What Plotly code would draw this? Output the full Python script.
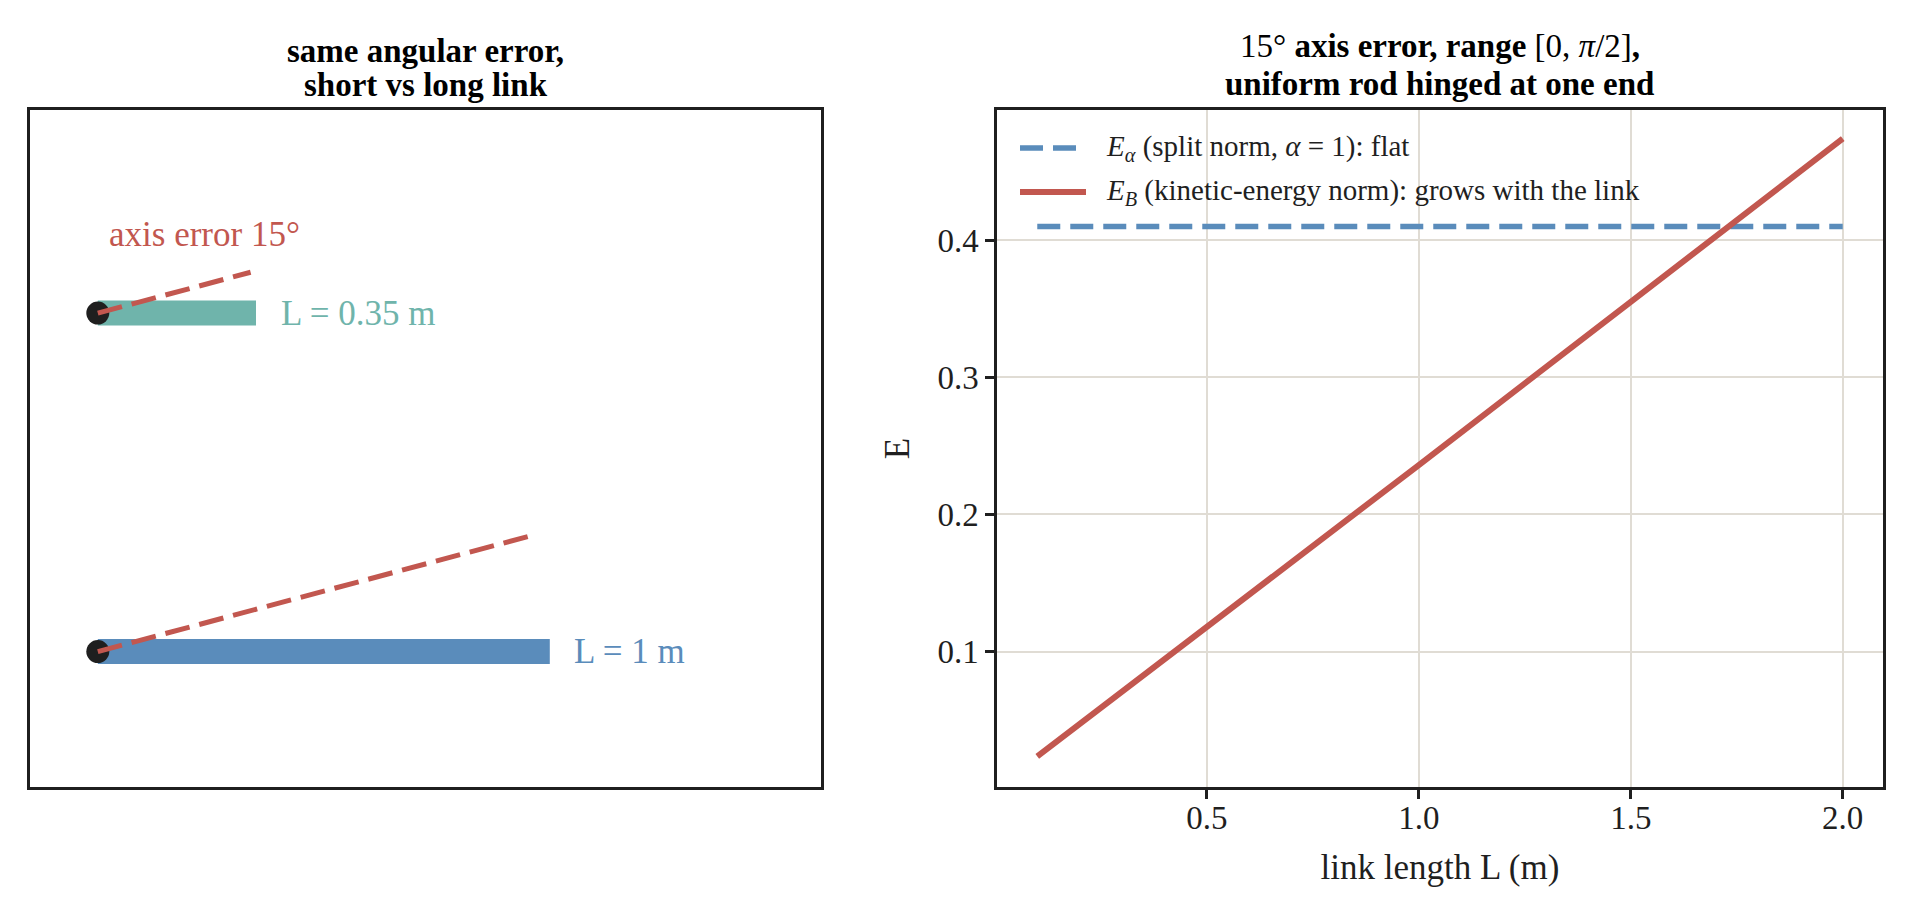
import math
import plotly.graph_objects as go

# right panel: error measure vs link length
L_flat = [0.1, 2.0]
E_alpha = [0.41, 0.41]
L_curve = [0.1, 0.5, 1.0, 1.5, 2.0]
E_B = [0.0235, 0.1175, 0.236, 0.355, 0.474]
curve_names = ["<i>E</i><sub><i>α</i></sub> (split norm, <i>α</i> = 1): flat",
               "<i>E</i><sub><i>B</i></sub> (kinetic-energy norm): grows with the link"]

# left panel: the two links with the same angular error
link_len = [0.35, 1.0]
link_names = ["L = 0.35 m", "L = 1 m"]
error_deg = 15

W, H = 1912, 916
PAD = 8  # default body margin of the html page
SERIF = "Liberation Serif"
RED = "#c2574f"
BLUE = "#5a8cbb"
TEAL = "#6fb4ab"
DARK = "#1f1f1f"
GRID = "#e0dcd4"

link_y = [1.0, 0.25]
link_colors = [TEAL, BLUE]


def px_x(p):
    return (p - PAD) / (W - PAD)


def px_y(p):
    return 1 - (p - PAD) / (H - PAD)


fig = go.Figure()

# ---- left schematic ----
a = math.radians(error_deg)
for L, y0, name, col in zip(link_len, link_y, link_names, link_colors):
    fig.add_trace(go.Scatter(x=[0, L], y=[y0, y0], mode="lines",
                             line={"color": col, "width": 25},
                             xaxis="x", yaxis="y", showlegend=False, hoverinfo="skip"))
    fig.add_trace(go.Scatter(x=[0], y=[y0], mode="markers",
                             marker={"color": DARK, "size": 23},
                             xaxis="x", yaxis="y", showlegend=False, hoverinfo="skip"))
    fig.add_trace(go.Scatter(x=[0, L * math.cos(a)], y=[y0, y0 + L * math.sin(a)], mode="lines",
                             line={"color": RED, "width": 5, "dash": "25px,10px"},
                             xaxis="x", yaxis="y", showlegend=False, hoverinfo="skip"))
    fig.add_annotation(x=L + 0.05, y=y0, xref="x", yref="y", text=name, showarrow=False,
                       xanchor="left", yanchor="middle",
                       font={"family": SERIF, "size": 35, "color": col})

fig.add_annotation(x=0.02, y=1.175, xref="x", yref="y", text=f"axis error {error_deg}°",
                   showarrow=False, xanchor="left", yanchor="middle",
                   font={"family": SERIF, "size": 35, "color": RED})

# ---- right panel curves ----
styles = [{"color": BLUE, "width": 5.5, "dash": "23px,10px"},
          {"color": RED, "width": 6}]
for xs, ys, nm, st in zip([L_flat, L_curve], [E_alpha, E_B], curve_names, styles):
    fig.add_trace(go.Scatter(x=xs, y=ys, mode="lines", line=st, name=nm,
                             xaxis="x2", yaxis="y2", showlegend=False))

# legend drawn by hand so the keys are as long as in matplotlib
for i, (nm, st) in enumerate(zip(curve_names, styles)):
    ky = px_y(148 + 44 * i)
    fig.add_shape(type="line", xref="paper", yref="paper",
                  x0=px_x(1020), x1=px_x(1086), y0=ky, y1=ky, line=st)
    fig.add_annotation(x=px_x(1104), y=ky, xref="paper", yref="paper", text=nm,
                       showarrow=False, xanchor="left", yanchor="middle",
                       font={"family": SERIF, "size": 29, "color": DARK})

# titles
title_font = {"family": SERIF, "size": 33, "color": "black"}
left_title = ["<b>same angular error,</b>", "<b>short vs long link</b>"]
right_title = ["15° <b>axis error, range</b> [0, <i>π</i>/2]<b>,</b>",
               "<b>uniform rod hinged at one end</b>"]
for cx, lines, ys in [(425.5, left_title, [51, 85]), (1439.5, right_title, [46, 84])]:
    for t, yy in zip(lines, ys):
        fig.add_annotation(x=px_x(cx), y=px_y(yy), xref="paper", yref="paper",
                           text=t, showarrow=False, xanchor="center", yanchor="middle",
                           font=title_font)

axis_line = {"showline": True, "linecolor": DARK, "linewidth": 2.5, "mirror": True}
tick_font = {"family": SERIF, "size": 33, "color": DARK}

fig.update_layout(
    width=W - PAD, height=H - PAD,
    margin={"l": 0, "r": 0, "t": 0, "b": 0},
    paper_bgcolor="white", plot_bgcolor="white",
    font={"family": SERIF, "color": DARK},
    showlegend=False,
    xaxis={"domain": [px_x(30), px_x(821)], "range": [-0.15, 1.6],
           "showgrid": False, "zeroline": False, "showticklabels": False, "ticks": "",
           **axis_line},
    yaxis={"domain": [px_y(787), px_y(110)], "range": [-0.05, 1.45],
           "showgrid": False, "zeroline": False, "showticklabels": False, "ticks": "",
           **axis_line},
    xaxis2={"domain": [px_x(997), px_x(1883)], "range": [0.005, 2.095], "anchor": "y2",
            "tickvals": [0.5, 1.0, 1.5, 2.0], "tickformat": ".1f",
            "showgrid": True, "gridcolor": GRID, "gridwidth": 1.5, "zeroline": False,
            "ticks": "outside", "ticklen": 9, "tickwidth": 2.5, "tickcolor": DARK,
            "tickfont": tick_font, "ticklabelstandoff": -9,
            "title": {"text": "link length L (m)", "font": {"family": SERIF, "size": 35},
                      "standoff": 20},
            **axis_line},
    yaxis2={"domain": [px_y(787), px_y(110)], "range": [0.0012, 0.4949], "anchor": "x2",
            "tickvals": [0.1, 0.2, 0.3, 0.4], "tickformat": ".1f",
            "showgrid": True, "gridcolor": GRID, "gridwidth": 1.5, "zeroline": False,
            "ticks": "outside", "ticklen": 9, "tickwidth": 2.5, "tickcolor": DARK,
            "tickfont": tick_font,
            "title": {"text": "E", "font": {"family": SERIF, "size": 35}, "standoff": 18},
            **axis_line},
)

fig.write_html("out.html")
